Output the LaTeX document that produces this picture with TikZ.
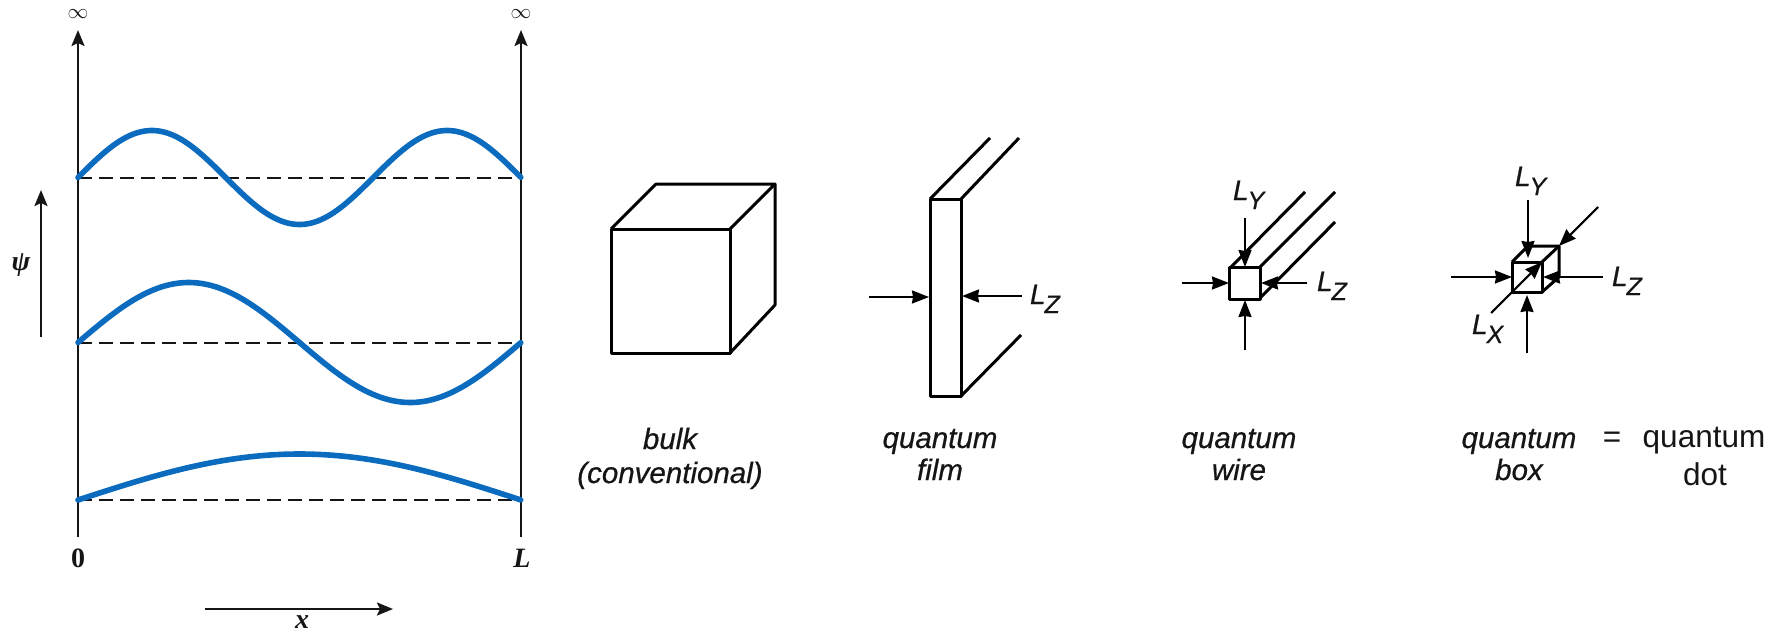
\documentclass[tikz,border=0pt]{standalone}
\usepackage{fontspec}
\setmainfont{Liberation Serif}
\setsansfont{Liberation Sans}[ItalicFeatures={FakeBold=0.6}]
\usetikzlibrary{arrows.meta}
\definecolor{wave}{HTML}{0B6BBF}
\definecolor{ink}{HTML}{151515}
\newcommand{\sizedfont}[1]{\fontsize{#1}{#1}\selectfont}
\newcommand{\lensym}[1]{{\sffamily\itshape\sizedfont{28}L\kern-1pt\raisebox{-9pt}{\sizedfont{25}#1}}}
\tikzset{
  x=1pt,y=-1pt,
  every node/.style={inner sep=0pt,outer sep=0pt,text=ink},
  axisline/.style={draw=ink,line width=2.2pt},
  axisarrow/.style={axisline,-{Stealth[length=16pt,width=13pt,inset=3pt]}},
  level/.style={draw=ink,line width=2pt,dash pattern=on 14pt off 7pt},
  wavecurve/.style={draw=wave,line width=5.6pt,line cap=round},
  solid3d/.style={draw=black,line width=3pt,line join=round},
  pointer/.style={draw=black,line width=2.1pt,-{Stealth[length=17pt,width=13pt,inset=1pt]}},
  caption/.style={anchor=base,font=\sffamily\itshape\sizedfont{29.5}},
  plain/.style={anchor=base,font=\sffamily\sizedfont{31.5}},
  symbolserif/.style={anchor=base,font=\bfseries\sizedfont{28}},
}
\begin{document}
\begin{tikzpicture}
\useasboundingbox (0,0) rectangle (1778,632);
% --- well ---
\coordinate (lb) at (78,537); \coordinate (lt) at (78,30);
\coordinate (rb) at (521,537); \coordinate (rt) at (521,30);
\draw[axisarrow] (lb) -- (lt);
\draw[axisarrow] (rb) -- (rt);
\coordinate (l3) at (78,177.5); \coordinate (r3) at (521,177.5);
\coordinate (l2) at (78,342.5); \coordinate (r2) at (521,342.5);
\coordinate (l1) at (78,500);   \coordinate (r1) at (521,500);
\draw[level] (l3) -- (r3);
\draw[level] (l2) -- (r2);
\draw[level] (l1) -- (r1);
\draw[wavecurve,smooth,samples=90,domain=0:1,variable=\t] plot ({78+443*\t},{177.5-47*sin(\t*540)});
\draw[wavecurve,smooth,samples=90,domain=0:1,variable=\t] plot ({78+443*\t},{342.5-60*sin(\t*360)});
\draw[wavecurve,smooth,samples=60,domain=0:1,variable=\t] plot ({78+443*\t},{500-46*sin(\t*180)});
\node (inf1) at (78,14) {\sizedfont{21}$\infty$};
\node (inf2) at (521,14) {\sizedfont{21}$\infty$};
\node[symbolserif] (zero) at (78,567) {0};
\node[symbolserif] (ell) at (522,567) {\itshape L};
\coordinate (pb) at (41,337); \coordinate (pt) at (41,190);
\draw[axisarrow] (pb) -- (pt);
\node[symbolserif] (psi) at (21,270) {\itshape ψ};
\coordinate (xa) at (205,609); \coordinate (xb) at (393,609);
\draw[axisarrow] (xa) -- (xb);
\node[symbolserif] (xlab) at (302,628) {\itshape x};
% --- bulk ---
\draw[solid3d] (611,229) rectangle (730,353);
\draw[solid3d] (611,229) -- (656,184) -- (775,184) -- (730,229);
\draw[solid3d] (775,184) -- (775,305) -- (730,353);
\node[caption] (bulk) at (670,449) {bulk};
\node[caption] (conv) at (670,483) {(conventional)};
% --- film ---
\draw[solid3d] (930,199) rectangle (961,396);
\draw[solid3d] (930,199) -- (990,138);
\draw[solid3d] (961,199) -- (1019,138);
\draw[solid3d] (961,396) -- (1021,335);
\coordinate (fa) at (869,297); \coordinate (fb) at (929,297);
\coordinate (fc) at (1022,296); \coordinate (fd) at (962,296);
\draw[pointer] (fa) -- (fb);
\draw[pointer] (fc) -- (fd);
\node[anchor=base west] (lzf) at (1030,304) {\lensym{Z}};
\node[caption] (qf) at (940,448) {quantum};
\node[caption] (film) at (940,480) {film};
% --- wire ---
\draw[solid3d] (1229,267) rectangle (1260,299);
\draw[solid3d] (1231,267) -- (1305,192);
\draw[solid3d] (1260,267) -- (1335,192);
\draw[solid3d] (1260,298) -- (1335,222);
\coordinate (wa) at (1182,283); \coordinate (wb) at (1229,283);
\coordinate (wc) at (1307,283); \coordinate (wd) at (1261,283);
\coordinate (we) at (1245,218); \coordinate (wf) at (1245,267);
\coordinate (wg) at (1245,350); \coordinate (wh) at (1245,300);
\draw[pointer] (wa) -- (wb);
\draw[pointer] (wc) -- (wd);
\draw[pointer] (we) -- (wf);
\draw[pointer] (wg) -- (wh);
\node[anchor=base west] (lyw) at (1233,200) {\lensym{Y}};
\node[anchor=base west] (lzw) at (1317,291) {\lensym{Z}};
\node[caption] (qw) at (1239,448) {quantum};
\node[caption] (wire) at (1239,480) {wire};
% --- box ---
\draw[solid3d] (1512,262) rectangle (1542,292);
\draw[solid3d] (1512,262) -- (1528,246) -- (1559,246) -- (1559,277) -- (1542,292);
\draw[solid3d] (1542,262) -- (1559,246);
\coordinate (ba) at (1451,277); \coordinate (bb) at (1512,277);
\coordinate (bc) at (1603,277); \coordinate (bd) at (1543,277);
\coordinate (be) at (1528,200); \coordinate (bf) at (1528,258);
\coordinate (bg) at (1527,353); \coordinate (bh) at (1527,295);
\coordinate (bi) at (1598,207); \coordinate (bj) at (1559,246);
\coordinate (bk) at (1491,313); \coordinate (bl) at (1542,262);
\draw[pointer] (ba) -- (bb);
\draw[pointer] (bc) -- (bd);
\draw[pointer] (be) -- (bf);
\draw[pointer] (bg) -- (bh);
\draw[pointer] (bi) -- (bj);
\draw[pointer] (bk) -- (bl);
\node[anchor=base west] (lyb) at (1515,186) {\lensym{Y}};
\node[anchor=base west] (lzb) at (1612,286) {\lensym{Z}};
\node[anchor=base west] (lxb) at (1472,334) {\lensym{X}};
\node[caption] (qb) at (1519,448) {quantum};
\node[caption] (box) at (1519,480) {box};
\node[plain] (eq) at (1612,447) {=};
\node[plain] (qd) at (1704,447) {quantum};
\node[plain] (dot) at (1705,485) {dot};
\end{tikzpicture}
\end{document}
